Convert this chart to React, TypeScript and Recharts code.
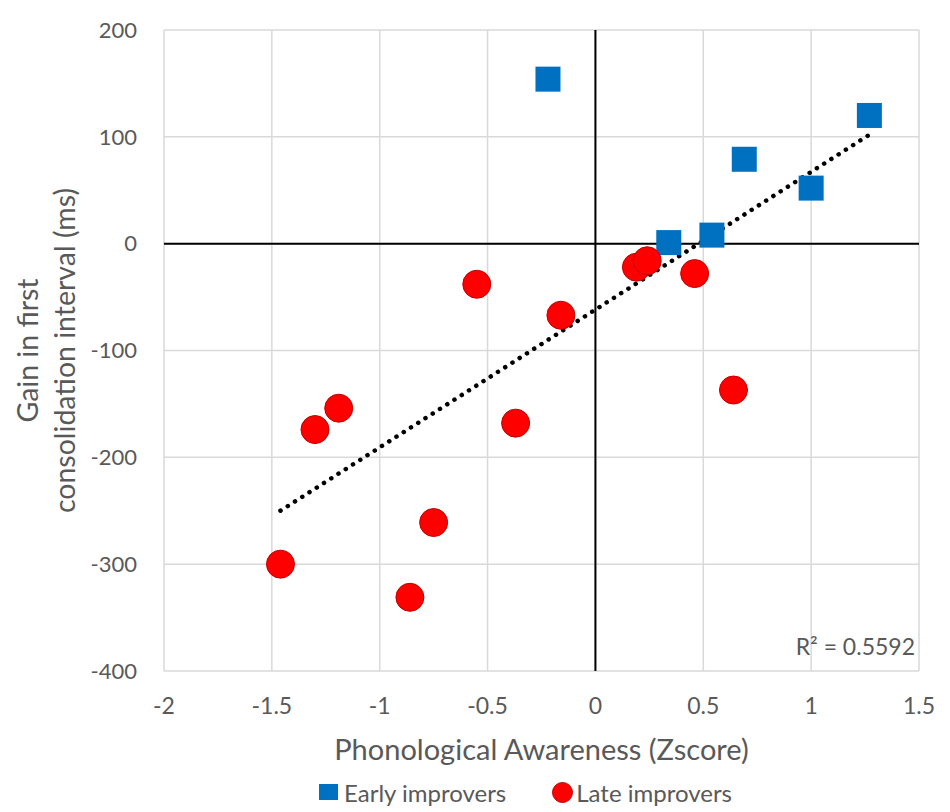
import React from "react";
import {
  ScatterChart, Scatter, XAxis, YAxis, CartesianGrid, ReferenceLine, Legend,
} from "recharts";

const xTicks = [-2, -1.5, -1, -0.5, 0, 0.5, 1, 1.5];
const yTicks = [-400, -300, -200, -100, 0, 100, 200];

const earlyX = [-0.22, 0.34, 0.54, 0.69, 1.0, 1.27];
const earlyY = [154, 1, 8, 79, 52, 120];

const lateX = [-1.46, -1.3, -1.19, -0.86, -0.75, -0.55, -0.37, -0.16, 0.19, 0.24, 0.46, 0.64];
const lateY = [-300, -174, -154, -331, -261, -38, -168, -67, -22, -16, -28, -137];

const trendX = [-1.46, 1.27];
const trendY = [-250, 102];

const seriesNames = ["Early improvers", "Late improvers"];
const rSquared = "R² = 0.5592";

const early = earlyX.map((x, i) => ({ x, y: earlyY[i] }));
const late = lateX.map((x, i) => ({ x, y: lateY[i] }));
const trend = trendX.map((x, i) => ({ x, y: trendY[i] }));

const FONT = "Lato, 'Open Sans', sans-serif";
const TEXT = "#595959";
const BLUE = "#0070C0";
const RED = "#FF0000";

function SquareMark({ cx, cy }: { cx?: number; cy?: number }) {
  if (cx == null || cy == null) return null;
  return <rect x={cx - 12.5} y={cy - 12.5} width={25} height={25} fill={BLUE} />;
}

function DotMark({ cx, cy }: { cx?: number; cy?: number }) {
  if (cx == null || cy == null) return null;
  return <circle cx={cx} cy={cy} r={14} fill={RED} stroke="#C00000" strokeWidth={1} />;
}

function YTitle({ viewBox }: { viewBox?: { x: number; y: number; width: number; height: number } }) {
  if (!viewBox) return null;
  const cy = viewBox.y + viewBox.height / 2;
  return (
    <g fontFamily={FONT} fontSize={28.5} fill={TEXT}>
      <text x={38} y={cy} textAnchor="middle" transform={`rotate(-90, 38, ${cy})`}>Gain in first</text>
      <text x={75} y={cy} textAnchor="middle" transform={`rotate(-90, 75, ${cy})`}>consolidation interval (ms)</text>
    </g>
  );
}

function XTitle({ viewBox }: { viewBox?: { x: number; y: number; width: number; height: number } }) {
  if (!viewBox) return null;
  return (
    <text x={viewBox.x + viewBox.width / 2} y={viewBox.y + 89} textAnchor="middle"
      fontFamily={FONT} fontSize={29} fill={TEXT}>
      Phonological Awareness (Zscore)
    </text>
  );
}

function LegendBox() {
  return (
    <div style={{ display: "flex", justifyContent: "center", alignItems: "center", paddingLeft: 101,
      fontFamily: FONT, fontSize: 24, color: TEXT, height: 40 }}>
      <span style={{ width: 19, height: 16, background: BLUE, display: "inline-block", marginRight: 6 }} />
      <span style={{ marginRight: 46 }}>{seriesNames[0]}</span>
      <span style={{ width: 21, height: 21, borderRadius: 11, background: RED, border: "1px solid #C00000",
        boxSizing: "border-box", display: "inline-block", marginRight: 3 }} />
      <span>{seriesNames[1]}</span>
    </div>
  );
}

export default function App() {
  return (
    <div style={{ position: "absolute", left: 0, top: 0, width: 950, height: 812, background: "#fff" }}>
      <ScatterChart width={950} height={812} margin={{ top: 30, right: 31, bottom: 0, left: 0 }}>
        <CartesianGrid stroke="#D9D9D9" strokeWidth={1.5} />
        <XAxis
          type="number" dataKey="x" domain={[-2, 1.5]} ticks={xTicks} height={101}
          axisLine={false} tickLine={false} tickSize={0} tickMargin={27}
          tick={{ fill: TEXT, fontSize: 23, fontFamily: FONT }}
          label={<XTitle />}
        />
        <YAxis
          type="number" dataKey="y" domain={[-400, 200]} ticks={yTicks} width={164}
          axisLine={false} tickLine={false} tickSize={0} tickMargin={27}
          tick={{ fill: TEXT, fontSize: 22, fontFamily: FONT }}
          label={<YTitle />}
        />
        <ReferenceLine x={0} stroke="#000" strokeWidth={2} />
        <ReferenceLine y={0} stroke="#000" strokeWidth={2} />
        <Scatter
          name="Linear trend" data={trend} isAnimationActive={false} legendType="none"
          line={{ stroke: "#000", strokeWidth: 4.5, strokeDasharray: "0.1 8.5", strokeLinecap: "round" }}
          shape={() => null}
        />
        <Scatter name={seriesNames[0]} data={early} isAnimationActive={false} shape={<SquareMark />} />
        <Scatter name={seriesNames[1]} data={late} isAnimationActive={false} shape={<DotMark />} />
        <Legend verticalAlign="bottom" height={40} content={<LegendBox />} wrapperStyle={{ left: 0, width: 950 }} />
        <text x={915} y={655} textAnchor="end" fontFamily={FONT} fontSize={23} fill={TEXT}>{rSquared}</text>
      </ScatterChart>
    </div>
  );
}
